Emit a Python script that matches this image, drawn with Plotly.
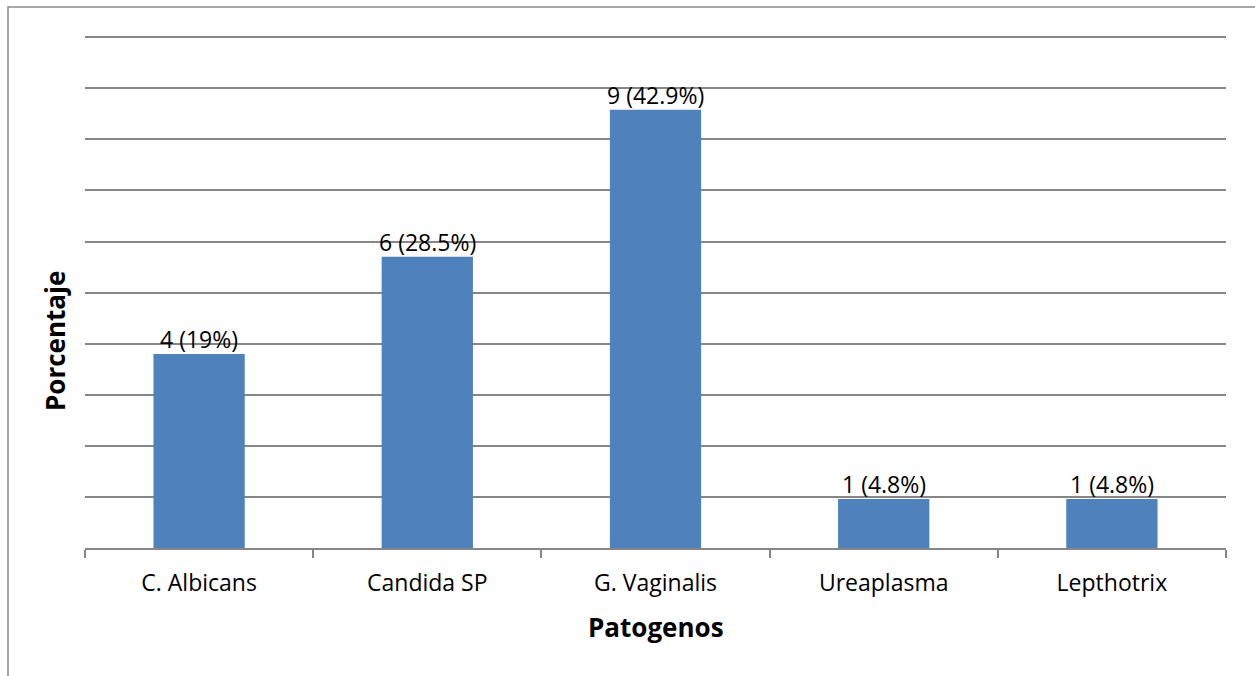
import plotly.graph_objects as go

categories = ["C. Albicans", "Candida SP", "G. Vaginalis", "Ureaplasma", "Lepthotrix"]
counts = [4, 6, 9, 1, 1]
percentages = [19, 28.5, 42.9, 4.8, 4.8]
labels = [f"{c} ({p:g}%)" for c, p in zip(counts, percentages)]

FONT = "Open Sans"
GRID = "#868686"
TOP = 27
BOTTOM_Y = 548
H_PLOT = BOTTOM_Y - TOP  # pixel height of the plot area

fig = go.Figure(
    go.Bar(
        x=categories,
        y=percentages,
        marker=dict(color="#4F81BD", line=dict(width=0)),
        hoverinfo="x+y",
    )
)

annotations = [
    dict(
        x=cat, y=val, xref="x", yref="y", text=lab, showarrow=False,
        xanchor="center", yanchor="bottom", yshift=-3,
        font=dict(family=FONT, size=23, color="black"),
    )
    for cat, val, lab in zip(categories, percentages, labels)
]

annotations += [
    dict(
        text="<b>Patogenos</b>", xref="paper", yref="paper",
        x=0.5, y=(BOTTOM_Y - 627) / H_PLOT, showarrow=False,
        font=dict(family=FONT, size=26, color="black"),
        xanchor="center", yanchor="middle",
    ),
    dict(
        text="<b>Porcentaje</b>", xref="paper", yref="paper",
        x=(55 - 85) / 1141, y=(BOTTOM_Y - 341) / H_PLOT, showarrow=False,
        textangle=-90,
        font=dict(family=FONT, size=26, color="black"),
        xanchor="center", yanchor="middle",
    ),
]

fig.update_layout(
    width=1255,
    height=676,
    margin=dict(l=85, r=29, t=TOP, b=676 - BOTTOM_Y),
    paper_bgcolor="white",
    plot_bgcolor="white",
    bargap=0.6,
    showlegend=False,
    font=dict(family=FONT, size=23, color="black"),
    xaxis=dict(
        showline=True,
        linecolor=GRID,
        linewidth=1.5,
        ticks="outside",
        tickson="boundaries",
        ticklen=8,
        tickcolor=GRID,
        tickwidth=1.5,
        ticklabelstandoff=14,
        tickfont=dict(family=FONT, size=23, color="black"),
        showgrid=False,
    ),
    yaxis=dict(
        range=[0, 51],
        tick0=0,
        dtick=5,
        showticklabels=False,
        showgrid=True,
        gridcolor=GRID,
        gridwidth=1.5,
        zeroline=False,
        showline=False,
    ),
    shapes=[
        dict(
            type="rect", xref="paper", yref="paper",
            x0=(8 - 85) / 1141, x1=1.2, y0=-0.5, y1=(BOTTOM_Y - 7) / H_PLOT,
            line=dict(color="#8a8a8a", width=1.5), fillcolor="rgba(0,0,0,0)",
            layer="below",
        )
    ],
    annotations=annotations,
)

fig.write_html("out.html")
